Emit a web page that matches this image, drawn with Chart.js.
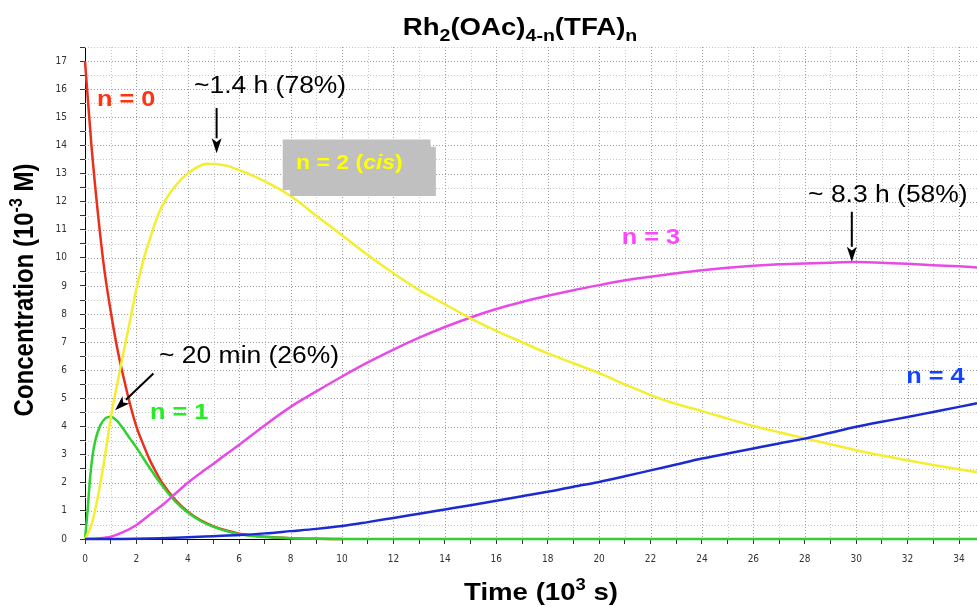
<!DOCTYPE html>
<html>
<head>
<meta charset="utf-8">
<title>Rh2(OAc)4-n(TFA)n</title>
<script src="https://cdn.jsdelivr.net/npm/chart.js@4.4.1/dist/chart.umd.min.js"></script>
<style>
  html, body { margin: 0; padding: 0; background: #fff; }
  #wrap { width: 977px; height: 607px; }
</style>
</head>
<body>
<div id="wrap"><canvas id="kinetics" width="977" height="607"></canvas></div>
<script>
// ------------------- Data (time in 10^3 s, conc in 10^-3 M) ------------------- //

const timeN0 = [0, 0.25, 0.5, 0.75, 1, 1.25, 1.5, 1.75, 2, 2.25, 2.5, 2.75, 3, 3.5, 4, 4.5, 5, 5.5, 6, 7, 8, 9, 10];
const concN0 = [17, 14.0, 11.6, 9.6, 8.1, 6.8, 5.75, 4.8, 4.0, 3.4, 2.85, 2.4, 2.0, 1.4, 0.97, 0.66, 0.45, 0.3, 0.19, 0.08, 0.03, 0.01, 0];

const timeN1 = [0, 0.1, 0.2, 0.3, 0.4, 0.6, 0.8, 1, 1.25, 1.5, 1.75, 2, 2.5, 3, 3.5, 4, 4.5, 5, 5.5, 6, 7, 8, 9, 10, 34.7];
const concN1 = [0, 1.0, 2.2, 3.0, 3.5, 4.05, 4.3, 4.35, 4.2, 3.9, 3.57, 3.25, 2.55, 1.9, 1.35, 0.94, 0.64, 0.43, 0.28, 0.17, 0.07, 0.03, 0.01, 0, 0];

const timeN2 = [0, 0.25, 0.5, 0.75, 1, 1.25, 1.5, 1.75, 2, 2.25, 2.5, 2.75, 3, 3.5, 4, 4.75, 5.5, 6, 7, 8, 9, 10, 11, 12, 13, 14, 15, 16, 17, 18, 19, 20, 21, 22, 23, 24, 25, 26, 27, 28, 29, 30, 31, 32, 33, 34, 34.7];
const concN2 = [0, 0.5, 1.5, 2.8, 4.3, 5.5, 6.65, 7.75, 8.9, 9.85, 10.6, 11.3, 11.85, 12.55, 13.0, 13.35, 13.28, 13.12, 12.72, 12.2, 11.5, 10.8, 10.1, 9.45, 8.85, 8.35, 7.85, 7.4, 7.0, 6.6, 6.25, 5.9, 5.5, 5.12, 4.8, 4.55, 4.28, 4.02, 3.8, 3.58, 3.37, 3.16, 2.97, 2.8, 2.63, 2.48, 2.38];

const timeN3 = [0, 0.5, 1, 1.5, 2, 2.5, 3, 3.5, 4, 4.5, 5, 5.5, 6, 7, 8, 9, 10, 11, 12, 13, 14, 15, 16, 17, 18, 19, 20, 21, 22, 23, 24, 25, 26, 27, 28, 29, 30, 31, 32, 33, 34, 34.7];
const concN3 = [0, 0.02, 0.08, 0.25, 0.5, 0.85, 1.2, 1.6, 2.0, 2.35, 2.68, 3.02, 3.35, 4.05, 4.7, 5.25, 5.78, 6.28, 6.74, 7.16, 7.54, 7.88, 8.18, 8.43, 8.65, 8.85, 9.03, 9.2, 9.33, 9.45, 9.56, 9.65, 9.72, 9.77, 9.8, 9.83, 9.85, 9.83, 9.79, 9.74, 9.7, 9.66];

const timeN4 = [0, 1, 2, 3, 4, 5, 6, 7, 8, 9, 10, 11, 12, 13, 14, 15, 16, 17, 18, 19, 20, 21, 22, 23, 24, 25, 26, 27, 28, 29, 30, 31, 32, 33, 34, 34.7];
const concN4 = [0, 0, 0.01, 0.03, 0.06, 0.1, 0.14, 0.2, 0.28, 0.36, 0.46, 0.6, 0.75, 0.9, 1.05, 1.2, 1.36, 1.52, 1.68, 1.86, 2.03, 2.23, 2.44, 2.65, 2.86, 3.04, 3.22, 3.4, 3.57, 3.78, 3.99, 4.17, 4.34, 4.52, 4.7, 4.83];

const xTickLabels = [0, 2, 4, 6, 8, 10, 12, 14, 16, 18, 20, 22, 24, 26, 28, 30, 32, 34];
const yTickLabels = [0, 1, 2, 3, 4, 5, 6, 7, 8, 9, 10, 11, 12, 13, 14, 15, 16, 17];

// ------------------- Helper Functions ------------------- //

const FONT = '"Liberation Sans", Arial, Helvetica, sans-serif';
const TICK_FONT = '"Liberation Sans Narrow", "DejaVu Sans Condensed", "Liberation Sans", sans-serif';
const STRETCH = 1.15; // the source picture is a bit wider than tall

function toPoints(ts, cs) {
  return ts.map((t, i) => ({ x: t, y: cs[i] }));
}

function fontOf(r) {
  return (r.italic ? "italic " : "") + (r.bold ? "bold " : "") + r.size + "px " + FONT;
}

// Draw a run of text pieces (sub/superscripts, italics) as one line
function drawRich(ctx, runs, x, y, align, baseline, rotate) {
  ctx.save();
  ctx.translate(x, y);
  ctx.scale(STRETCH, 1);
  if (rotate) ctx.rotate(rotate);
  ctx.textAlign = "left";
  ctx.textBaseline = baseline || "alphabetic";
  let total = 0;
  runs.forEach(r => {
    ctx.font = fontOf(r);
    r.w = ctx.measureText(r.text).width;
    total += r.w;
  });
  let cx = align === "center" ? -total / 2 : 0;
  runs.forEach(r => {
    ctx.font = fontOf(r);
    ctx.fillStyle = r.color || "#000";
    ctx.fillText(r.text, cx, r.dy || 0);
    cx += r.w;
  });
  ctx.restore();
}

function drawArrow(ctx, x1, y1, x2, y2) {
  const ang = Math.atan2(y2 - y1, x2 - x1);
  const head = 15, half = 5;
  const bx = x2 - head * Math.cos(ang), by = y2 - head * Math.sin(ang);
  ctx.save();
  ctx.strokeStyle = "#000";
  ctx.fillStyle = "#000";
  ctx.lineWidth = 2;
  ctx.beginPath();
  ctx.moveTo(x1, y1);
  ctx.lineTo(bx, by);
  ctx.stroke();
  ctx.beginPath();
  ctx.moveTo(x2, y2);
  ctx.lineTo(bx + half * Math.sin(ang), by - half * Math.cos(ang));
  ctx.lineTo(x2 - head * 0.75 * Math.cos(ang), y2 - head * 0.75 * Math.sin(ang));
  ctx.lineTo(bx - half * Math.sin(ang), by + half * Math.cos(ang));
  ctx.closePath();
  ctx.fill();
  ctx.restore();
}

// ------------------- Plugins ------------------- //

// dotted grid inside the plot (ticks stay solid)
const dottedGrid = {
  id: "dottedGrid",
  beforeDatasetsDraw(chart) {
    const { ctx, chartArea: a, scales: { x, y } } = chart;
    ctx.save();
    ctx.lineWidth = 1;
    ctx.setLineDash([1, 2]);
    y.ticks.forEach(t => {
      if (t.value === 0) return;
      const p = Math.round(y.getPixelForValue(t.value)) + 0.5;
      ctx.strokeStyle = Number.isInteger(t.value) ? "#9c9c9c" : "#c4c4c4";
      ctx.beginPath(); ctx.moveTo(a.left, p); ctx.lineTo(a.right, p); ctx.stroke();
    });
    x.ticks.forEach(t => {
      if (t.value === 0) return;
      const p = Math.round(x.getPixelForValue(t.value)) + 0.5;
      ctx.strokeStyle = t.value % 2 === 0 ? "#9c9c9c" : "#c4c4c4";
      ctx.beginPath(); ctx.moveTo(p, a.top); ctx.lineTo(p, a.bottom); ctx.stroke();
    });
    ctx.restore();
  }
};

// titles, series names and arrow notes
const notes = {
  id: "notes",
  afterDatasetsDraw(chart) {
    const { ctx, scales: { x, y } } = chart;
    const px = v => x.getPixelForValue(v);
    const py = v => y.getPixelForValue(v);

    // chart title
    drawRich(ctx, [
      { text: "Rh", size: 24, bold: true },
      { text: "2", size: 17, bold: true, dy: 6 },
      { text: "(OAc)", size: 24, bold: true },
      { text: "4-n", size: 17, bold: true, dy: 6 },
      { text: "(TFA)", size: 24, bold: true },
      { text: "n", size: 17, bold: true, dy: 6 }
    ], 520, 35, "center");

    // axis titles
    drawRich(ctx, [
      { text: "Time (10", size: 24, bold: true },
      { text: "3", size: 16, bold: true, dy: -10 },
      { text: " s)", size: 24, bold: true }
    ], 541, 600, "center");
    drawRich(ctx, [
      { text: "Concentration (10", size: 24, bold: true },
      { text: "-3", size: 16, bold: true, dy: -10 },
      { text: " M)", size: 24, bold: true }
    ], 33, 290, "center", "alphabetic", -Math.PI / 2);

    // grey tag behind the cis label
    ctx.save();
    ctx.fillStyle = "#c0c0c0";
    ctx.fillRect(px(7.69), py(14.21), px(13.44) - px(7.69), py(12.41) - py(14.21));
    ctx.fillRect(px(7.98), py(13.95), px(13.65) - px(7.98), py(12.2) - py(13.95));
    ctx.restore();
    drawRich(ctx, [
      { text: "n = 2 (", size: 20, bold: true, color: "#ffff00" },
      { text: "cis", size: 20, bold: true, italic: true, color: "#ffff00" },
      { text: ")", size: 20, bold: true, color: "#ffff00" }
    ], px(8.21), py(13.36), "left", "middle");

    // series names
    drawRich(ctx, [{ text: "n = 0", size: 22, bold: true, color: "#ff3311" }], px(0.47), py(15.61), "left", "middle");
    drawRich(ctx, [{ text: "n = 1", size: 22, bold: true, color: "#22ee22" }], px(2.53), py(4.47), "left", "middle");
    drawRich(ctx, [{ text: "n = 3", size: 22, bold: true, color: "#ff44ff" }], px(20.88), py(10.7), "left", "middle");
    drawRich(ctx, [{ text: "n = 4", size: 22, bold: true, color: "#1144ff" }], px(31.95), py(5.75), "left", "middle");

    // maxima notes
    drawRich(ctx, [{ text: "~1.4 h (78%)", size: 23 }], px(4.24), py(16.08), "left", "middle");
    drawArrow(ctx, px(5.12), py(15.33), px(5.12), py(13.72));
    drawRich(ctx, [{ text: "~ 8.3 h (58%)", size: 23 }], px(28.13), py(12.23), "left", "middle");
    drawArrow(ctx, px(29.83), py(11.64), px(29.83), py(9.86));
    drawRich(ctx, [{ text: "~ 20 min (26%)", size: 23 }], px(2.88), py(6.47), "left", "middle");
    drawArrow(ctx, px(2.66), py(5.89), px(1.17), py(4.58));
  }
};

// ------------------- Chart ------------------- //

function lineSet(label, ts, cs, color, order) {
  return {
    label: label,
    data: toPoints(ts, cs),
    borderColor: color,
    backgroundColor: color,
    borderWidth: 2.5,
    pointRadius: 0,
    fill: false,
    cubicInterpolationMode: "monotone",
    clip: 4,
    order: order
  };
}

function drawChart() {
  const ctx = document.getElementById("kinetics").getContext("2d");
  new Chart(ctx, {
    type: "line",
    data: {
      datasets: [
        lineSet("n = 4", timeN4, concN4, "#1c2bd0", 0),
        lineSet("n = 2 (cis)", timeN2, concN2, "#f4ee2e", 1),
        lineSet("n = 3", timeN3, concN3, "#e84ae8", 2),
        lineSet("n = 1", timeN1, concN1, "#30d030", 3),
        lineSet("n = 0", timeN0, concN0, "#e8301c", 4)
      ]
    },
    options: {
      responsive: false,
      animation: false,
      devicePixelRatio: 1,
      layout: { padding: { top: 47, left: 0, right: 0, bottom: 0 } },
      plugins: {
        legend: { display: false },
        tooltip: { enabled: false },
        title: { display: false }
      },
      scales: {
        x: {
          type: "linear",
          min: 0,
          max: 34.7,
          ticks: {
            stepSize: 1,
            includeBounds: false,
            autoSkip: false,
            maxRotation: 0,
            padding: 9,
            color: "#333",
            font: { family: TICK_FONT, size: 10 },
            callback: v => (xTickLabels.includes(v) ? String(v) : "")
          },
          grid: { drawOnChartArea: false, tickLength: 5, color: "#333" },
          border: { color: "#000", width: 1 },
          afterBuildTicks: s => { s.ticks = s.ticks.filter(t => Number.isInteger(t.value)); },
          afterFit: s => { s.height = 68; }
        },
        y: {
          type: "linear",
          min: 0,
          max: 17.5,
          ticks: {
            stepSize: 0.5,
            includeBounds: false,
            autoSkip: false,
            padding: 13,
            color: "#333",
            font: { family: TICK_FONT, size: 10 },
            callback: v => (yTickLabels.includes(v) ? String(v) : "")
          },
          grid: { drawOnChartArea: false, tickLength: 5, color: "#333" },
          border: { color: "#000", width: 1 },
          afterBuildTicks: s => { s.ticks = s.ticks.filter(t => Number.isInteger(t.value * 2)); },
          afterFit: s => { s.width = 85; }
        }
      }
    },
    plugins: [dottedGrid, notes]
  });
}

// ------------------- Initialize ------------------- //
document.addEventListener("DOMContentLoaded", drawChart);
</script>
</body>
</html>
